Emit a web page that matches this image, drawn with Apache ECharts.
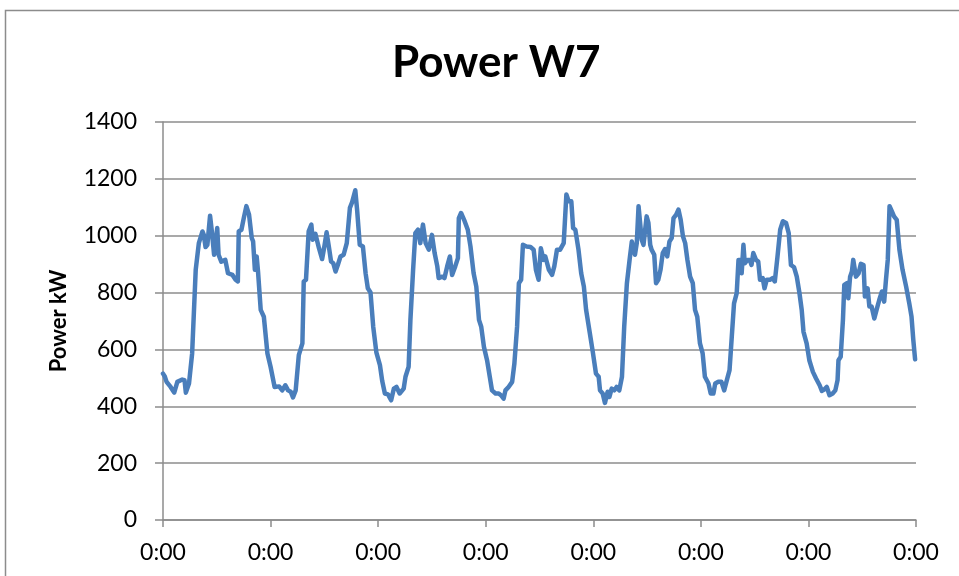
<!DOCTYPE html>
<html>
<head>
<meta charset="utf-8">
<script src="https://cdn.jsdelivr.net/npm/echarts@6/dist/echarts.min.js"></script>
<style>
html,body{margin:0;padding:0;background:#fff;}
#chart{width:959px;height:576px;}
</style>
</head>
<body>
<div id="chart"></div>
<script>
// Data (hours since start, power in kW)
const hours = [0,0.4,0.8,1.7,2.5,3.2,4.3,4.8,5.1,5.8,6.5,7.3,8.0,8.8,9.1,9.5,9.9,10.5,10.9,11.4,12.1,12.4,13.0,13.9,14.5,15.5,16.2,16.7,16.9,17.5,18.1,18.6,19.2,19.8,20.1,20.5,20.9,21.2,21.8,22.5,23.3,24.0,24.9,25.9,26.6,27.3,27.9,28.5,29.0,29.6,30.3,31.1,31.4,31.9,32.5,33.1,33.4,34.0,34.8,35.5,36.0,36.5,37.0,37.5,38.0,38.5,39.0,39.6,40.3,41.0,41.7,42.2,42.9,43.3,43.9,44.6,45.2,45.7,46.3,46.9,47.6,48.4,48.9,49.5,50.2,50.9,51.5,52.1,52.8,53.7,54.1,54.8,55.2,55.8,56.3,56.9,57.4,58.0,58.6,59.3,60.0,60.6,61.2,61.5,62.3,62.8,63.4,64.0,64.5,65.2,65.8,66.0,66.5,67.3,68.0,68.6,69.3,69.9,70.5,71.0,71.6,72.3,72.9,73.4,74.2,74.9,75.4,76.0,76.4,77.1,77.9,78.4,79.0,79.4,79.9,80.3,81.1,82.0,82.7,83.2,83.8,84.3,84.9,85.3,86.1,86.8,87.3,87.9,88.6,89.4,90.0,90.5,91.1,91.5,92.0,92.7,93.3,93.9,94.4,95.2,95.9,96.6,97.2,97.5,98.1,98.6,99.2,99.6,100.1,100.7,101.2,101.8,102.4,102.9,103.5,104.1,104.6,105.0,105.3,105.7,106.1,106.4,106.8,107.2,107.6,107.9,108.3,108.7,109.0,109.6,110.0,110.5,111.0,111.5,112.0,112.5,113.0,113.5,113.9,114.5,115.0,115.5,116.0,116.5,117.0,117.6,118.2,118.7,119.2,119.8,120.4,120.9,121.7,122.2,122.8,123.2,123.9,124.6,125.2,125.8,126.4,126.9,127.4,128.0,128.4,128.9,129.1,129.5,129.8,130.4,130.9,131.3,131.7,132.3,132.8,133.2,133.8,134.2,134.7,135.4,136.0,136.5,137.1,137.7,138.3,139.0,139.6,140.1,140.8,141.4,142.0,142.5,142.9,143.6,144.2,145.0,145.7,146.5,147.0,147.5,148.1,148.7,149.4,150.0,150.5,150.7,151.2,151.7,152.0,152.6,152.9,153.3,153.7,154.0,154.6,155.2,155.7,156.3,156.6,157.2,157.6,158.1,158.7,159.2,159.8,160.4,160.9,161.3,161.7,162.1,162.6,163.1,163.7,164.3,165.0,165.8,166.5,167.0,167.4,167.8];
const powerKW = [515,505,486,468,448,486,494,492,448,480,586,880,974,1015,1003,960,968,1070,1015,933,1027,933,909,915,868,862,845,839,1015,1021,1068,1104,1074,992,980,880,927,874,739,715,586,539,468,470,456,474,456,451,431,456,580,621,839,845,1015,1039,986,1007,956,918,962,1012,962,909,903,874,897,927,933,974,1098,1118,1160,1092,968,962,868,815,800,680,590,545,490,445,442,421,462,468,445,462,504,539,704,880,1009,1021,974,1039,974,951,1003,939,892,851,856,851,892,927,862,892,921,1062,1080,1051,1021,962,868,821,704,680,609,562,504,456,445,445,439,427,456,468,486,551,680,833,845,968,962,960,951,880,845,956,915,927,880,862,892,951,951,974,1145,1121,1121,1027,1021,951,868,821,739,660,590,515,504,456,445,412,451,433,462,456,468,456,504,680,833,915,980,986,933,974,1104,1098,986,968,974,1068,1045,968,951,933,833,845,880,939,953,927,980,992,1062,1074,1092,1056,998,974,915,856,833,739,715,621,586,504,480,445,445,480,486,486,456,492,527,645,762,798,915,915,868,968,903,915,915,897,939,915,909,845,851,815,845,845,851,839,927,1021,1051,1045,1009,897,889,856,798,739,662,621,562,521,498,474,454,459,468,439,445,456,492,562,574,704,827,833,780,856,874,915,856,868,901,897,786,815,751,751,709,739,774,804,768,845,915,1104,1086,1068,1056,951,880,821,762,715,633,565];
const xTickLabels = ['0:00','0:00','0:00','0:00','0:00','0:00','0:00','0:00'];
const yTicks = [0,200,400,600,800,1000,1200,1400];
const chartTitle = 'Power W7';
const yAxisName = 'Power kW';

const seriesData = hours.map((h, i) => [h, powerKW[i]]);
const chart = echarts.init(document.getElementById('chart'), null, {renderer: 'canvas'});
const FONT = 'Lato, "Open Sans", sans-serif';
chart.setOption({
  animation: false,
  backgroundColor: '#ffffff',
  title: {
    text: chartTitle,
    left: 387,
    top: 36,
    textStyle: {fontFamily: FONT, fontWeight: 'bold', fontSize: 44, color: '#000'}
  },
  graphic: [{
    type: 'rect',
    shape: {x: 5.5, y: 10.5, width: 1000, height: 700},
    style: {fill: 'none', stroke: '#8c8c8c', lineWidth: 1.5},
    silent: true
  }],
  grid: {left: 163, right: 43, top: 122, bottom: 56, containLabel: false},
  xAxis: {
    type: 'value',
    min: 0, max: 168, interval: 24,
    axisLine: {show: true, lineStyle: {color: '#8c8c8c', width: 1.5}},
    axisTick: {show: true, length: 7, lineStyle: {color: '#8c8c8c', width: 1.5}},
    splitLine: {show: false},
    axisLabel: {
      formatter: v => xTickLabels[Math.round(v / 24)] || '',
      fontFamily: FONT, fontSize: 23, color: '#000', margin: 21
    }
  },
  yAxis: {
    type: 'value',
    min: yTicks[0], max: yTicks[yTicks.length - 1], interval: 200,
    name: yAxisName,
    nameLocation: 'middle',
    nameGap: 93,
    nameTextStyle: {fontFamily: FONT, fontWeight: 'bold', fontSize: 22, color: '#000'},
    axisLine: {show: true, lineStyle: {color: '#8c8c8c', width: 1.5}},
    axisTick: {show: true, length: 8, lineStyle: {color: '#8c8c8c', width: 1.5}},
    splitLine: {show: true, lineStyle: {color: '#8c8c8c', width: 1.5}},
    axisLabel: {formatter: v => String(v), fontFamily: FONT, fontSize: 23, color: '#000', margin: 26}
  },
  series: [{
    type: 'line',
    data: seriesData,
    showSymbol: false,
    lineStyle: {color: '#4a7ebb', width: 4.5, join: 'round', cap: 'round'},
    itemStyle: {color: '#4a7ebb'}
  }]
});
</script>
</body>
</html>
